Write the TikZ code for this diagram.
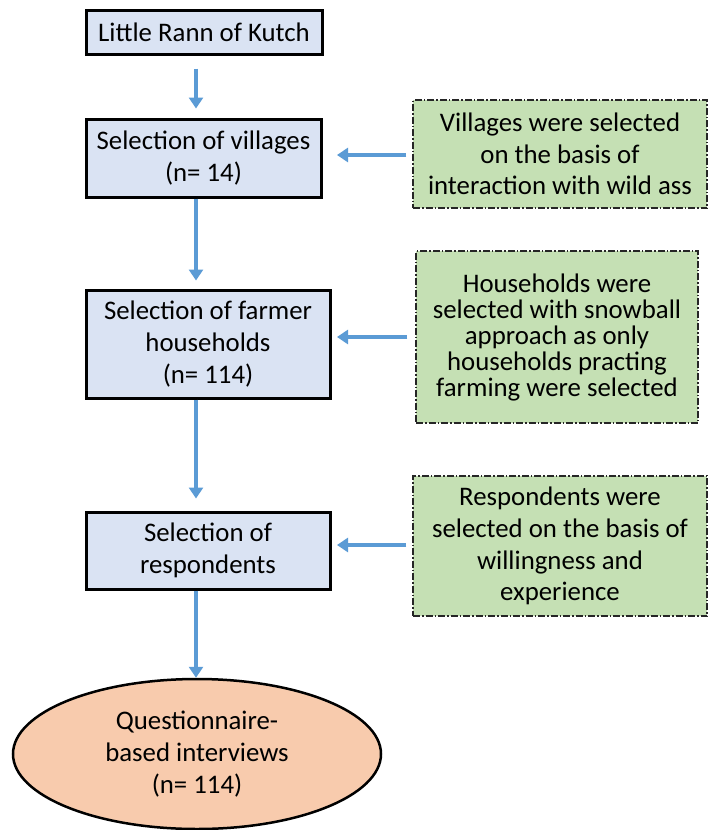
\documentclass[tikz,border=0pt]{standalone}
\usepackage{fontspec}
\setmainfont{Carlito}
\usetikzlibrary{arrows.meta,shapes.geometric}
\definecolor{boxblue}{HTML}{DAE3F3}
\definecolor{boxgreen}{HTML}{C5E0B4}
\definecolor{boxorange}{HTML}{F8CBAD}
\definecolor{arrblue}{HTML}{5B9BD5}
\tikzset{
  stepbox/.style={draw=black, line width=3pt, fill=boxblue, rectangle, inner sep=0pt, align=center,
    font=\fontsize{26.8}{31.7}\selectfont},
  notebox/.style={draw=black!85, line width=1.3pt, dash pattern=on 7pt off 2pt on 1.5pt off 2pt,
    fill=boxgreen, rectangle, inner sep=0pt, align=center, font=\fontsize{26.8}{31.7}\selectfont},
  endshape/.style={draw=black, line width=2.5pt, fill=boxorange, ellipse, inner sep=0pt, align=center,
    font=\fontsize{26.8}{31.7}\selectfont},
  arr/.style={draw=arrblue, line width=3.5pt, -{Triangle[width=14pt,length=11pt]}},
}
\begin{document}
\begin{tikzpicture}[x=1pt,y=-1pt]
\useasboundingbox (0,0) rectangle (710,830);
\coordinate (ax) at (196,0);
\coordinate (hx) at (337,0);

\node[stepbox, minimum width=236pt, minimum height=44pt] (b1) at (204,32) {Little Rann of Kutch};
\node[stepbox, minimum width=235pt, minimum height=78pt] (b2) at (203.5,158) {Selection of villages\\(n= 14)};
\node[stepbox, minimum width=244pt, minimum height=108pt] (b3) at (208,344) {Selection of farmer\\households\\(n= 114)};
\node[stepbox, minimum width=244pt, minimum height=77pt] (b4) at (208,550.5) {Selection of\\respondents};
\node[endshape, minimum width=368pt, minimum height=150pt] (e) at (197,754) {Questionnaire-\\based interviews\\(n= 114)};

\node[notebox, minimum width=294pt, minimum height=108pt] (g1) at (560,154) {Villages were selected\\on the basis of\\interaction with wild ass};
\node[notebox, minimum width=282pt, minimum height=172pt, font=\fontsize{26.8}{26}\selectfont] (g2) at (557,337) {Households were\\selected with snowball\\approach as only\\households practing\\farming were selected};
\node[notebox, minimum width=294pt, minimum height=140pt] (g3) at (560,546) {Respondents were\\selected on the basis of\\willingness and\\experience};

\draw[arr, shorten <=13pt, shorten >=9pt] (b1.south -| ax) -- (b2.north -| ax);
\draw[arr, shorten >=8pt] (b2.south -| ax) -- (b3.north -| ax);
\draw[arr, shorten >=12pt] (b3.south -| ax) -- (b4.north -| ax);
\draw[arr] (b4.south -| ax) -- (e.north -| ax);

\draw[arr, shorten <=6pt] ([yshift=-1pt]g1.west) -- ([yshift=-1pt]g1.west -| hx);
\draw[arr, shorten <=8pt] (g2.west) -- (g2.west -| hx);
\draw[arr, shorten <=6pt] ([yshift=1pt]g3.west) -- ([yshift=1pt]g3.west -| hx);
\end{tikzpicture}
\end{document}
